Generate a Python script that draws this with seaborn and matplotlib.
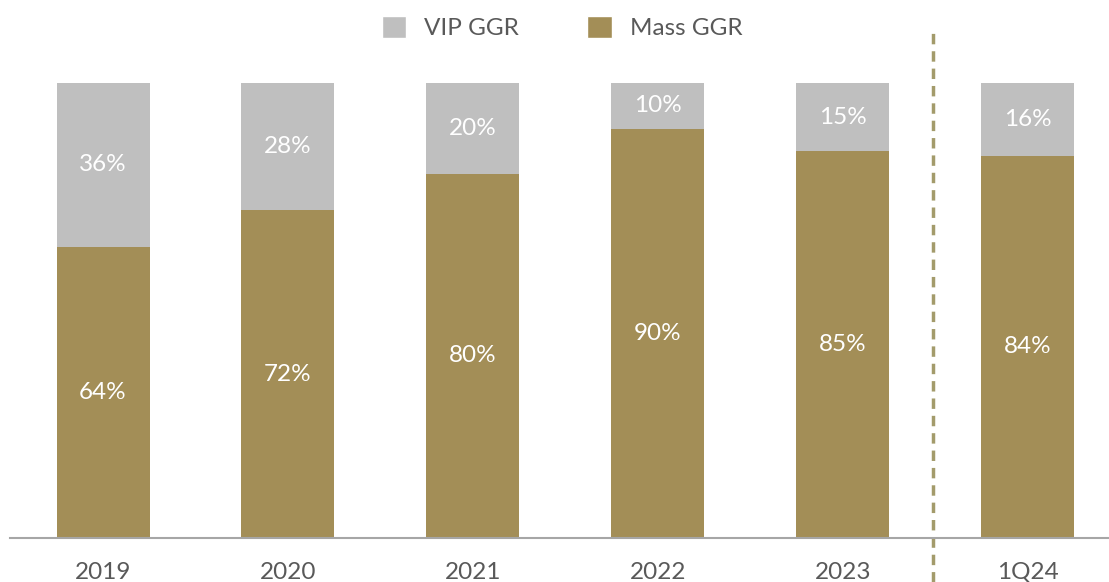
import numpy as np
import pandas as pd
import seaborn as sns
import matplotlib.pyplot as plt
from matplotlib.patches import Patch

# Data
periods = ['2019', '2020', '2021', '2022', '2023', '1Q24']
mass_ggr = [64, 72, 80, 90, 85, 84]
vip_ggr = [36, 28, 20, 10, 15, 16]

gold = '#A38E57'
grey = '#BFBFBF'
text_grey = '#595959'

df = pd.DataFrame({'period': periods, 'mass': mass_ggr, 'vip': vip_ggr})
df['total'] = df['mass'] + df['vip']

sns.set_theme(style='white')
plt.rcParams['font.family'] = ['Lato', 'DejaVu Sans']

fig = plt.figure(figsize=(11.09, 5.82), dpi=100)
ax = fig.add_axes([10 / 1109, 44 / 582, 1 - 10 / 1109, 455 / 582])

# stacked: grey total underneath, gold mass on top
sns.barplot(data=df, x='period', y='total', color=grey, width=0.503,
            saturation=1, linewidth=0, ax=ax)
sns.barplot(data=df, x='period', y='mass', color=gold, width=0.503,
            saturation=1, linewidth=0, ax=ax)

for i, (m, v) in enumerate(zip(mass_ggr, vip_ggr)):
    ax.text(i, m / 2, f'{m}%', ha='center', va='center', color='white', fontsize=17.5)
    ax.text(i, m + v / 2, f'{v}%', ha='center', va='center', color='white', fontsize=17.5)

ax.set_xlim(-0.503, 5.44)
ax.set_ylim(0, 100)
ax.set_xlabel('')
ax.set_ylabel('')
ax.set_yticks([])
ax.tick_params(axis='x', length=0, pad=17, labelsize=17.5, labelcolor=text_grey)
for s in ['top', 'right', 'left']:
    ax.spines[s].set_visible(False)
ax.spines['bottom'].set_color('#A6A6A6')
ax.spines['bottom'].set_linewidth(1.5)

# separator between annual and quarter
ax.axvline(4.486, ymin=-0.097, ymax=1.11, color='#A39B6B', lw=2.5,
           linestyle=(0, (3, 2)), clip_on=False)

handles = [Patch(facecolor=grey, label='VIP GGR'), Patch(facecolor=gold, label='Mass GGR')]
fig.legend(handles=handles, loc='upper center', bbox_to_anchor=(0.507, 1.01), ncol=2,
           frameon=False, fontsize=17.5, labelcolor=text_grey, handlelength=1.0,
           handleheight=1.0, columnspacing=2.8, handletextpad=0.75)

fig.savefig('out.png', dpi=100)
